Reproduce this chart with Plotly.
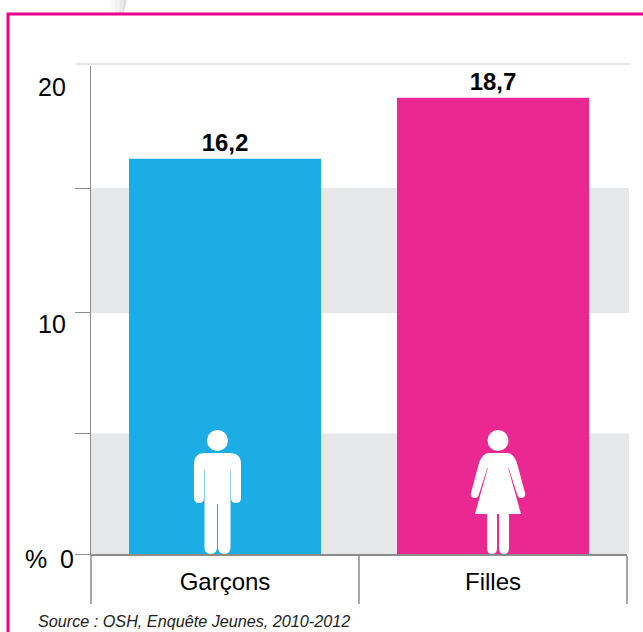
import plotly.graph_objects as go

categories = ["Garçons", "Filles"]
values = [16.2, 18.7]
bar_colors = ["#1BADE3", "#EB2891"]
y_ticks = [0, 4.94, 9.88, 15]
band_ranges = [(0, 4.94), (9.88, 15)]
y_label_values = [0, 10, 20]
y_label_texts = ["0", "10", "20"]
y_label_shifts = [-5, -14, -21]
source = "Source : OSH, Enquête Jeunes, 2010-2012"

W, H = 643, 632
FONT = "Liberation Sans"
GREY = "#8C8C8E"

def px(x):
    return x / W

def py(y):
    return 1 - y / H

man = ("M -23.5 56 Q -23.5 51 -18.5 51 Q -13.5 51 -13.5 56 L -13.5 84 L -13 84 "
       "L -13 6.5 Q -13 0 -6.7 0 Q -0.5 0 -0.5 6.5 L -0.5 50 L 0.5 50 L 0.5 6.5 "
       "Q 0.5 0 6.7 0 Q 13 0 13 6.5 L 13 84 L 13.5 84 L 13.5 56 Q 13.5 51 18.5 51 "
       "Q 23.5 51 23.5 56 L 23.5 90 Q 23.5 101 12 101 L -12 101 Q -23.5 101 -23.5 90 Z")
woman = ("M -27.3 60 Q -27 56 -23 56 Q -20 56 -19 60 L -10.7 86 L -10.2 86 L -23 40 L -11 40 "
         "L -11 6 Q -11 0 -6 0 Q -1 0 -1 6 L -1 40 L 1 40 L 1 6 Q 1 0 6 0 Q 11 0 11 6 L 11 40 "
         "L 23 40 L 10.2 86 L 10.7 86 L 19 60 Q 20 56 23 56 Q 27 56 27.3 60 L 18.7 92 "
         "Q 15 101 9 101 L -9 101 Q -15 101 -18.7 92 Z")


def icon(path, anchor_px):
    return [
        dict(type="path", path=path, xref="paper", yref="y", xsizemode="pixel", ysizemode="pixel",
             xanchor=px(anchor_px), yanchor=0, fillcolor="white", line_width=0, layer="above"),
        dict(type="circle", xref="paper", yref="y", xsizemode="pixel", ysizemode="pixel",
             xanchor=px(anchor_px), yanchor=0, x0=-10.5, x1=10.5, y0=103, y1=124,
             fillcolor="white", line_width=0, layer="above"),
    ]


def smudge(x_top_left, x_bot_left, x_top_right, x_bot_right, color):
    return dict(type="path", xref="paper", yref="paper",
                path=(f"M {px(x_top_left)} {py(0)} L {px(x_top_right)} {py(0)} "
                      f"L {px(x_bot_right)} {py(13)} L {px(x_bot_left)} {py(13)} Z"),
                fillcolor=color, line_width=0, layer="below")


shapes = [
    dict(type="rect", xref="paper", yref="y", x0=px(91), x1=px(629), y0=lo, y1=hi,
         fillcolor="#E6E7E8", line_width=0, layer="below")
    for lo, hi in band_ranges
] + [
    dict(type="line", xref="paper", yref="paper", x0=px(76), x1=px(630), y0=py(64), y1=py(64),
         line=dict(color="#E6E6E6", width=2.5), layer="below"),
    smudge(110, 112, 115, 115, "#F8F8F8"),
    smudge(115, 115, 120, 119, "#F2F2F2"),
    smudge(120, 119, 124, 122, "#E8E8E8"),
    smudge(124, 122, 127, 123.5, "#DCDCDC"),
    dict(type="path", xref="paper", yref="paper",
         path=f"M {px(8)} {py(632)} L {px(8)} {py(14)} L {px(643)} {py(14)}",
         line=dict(color="#EC008C", width=3), layer="above"),
] + icon(man, 217.5) + icon(woman, 498)

annotations = [
    dict(x=px(68), y=v, xref="paper", yref="y", text=t, showarrow=False, xanchor="right",
         yanchor="middle", yshift=s, font=dict(family=FONT, size=25, color="black"))
    for v, t, s in zip(y_label_values, y_label_texts, y_label_shifts)
]
annotations[0]["x"] = px(76)
annotations += [
    dict(x=px(23), y=0, xref="paper", yref="y", text="%", showarrow=False, xanchor="left",
         yanchor="middle", yshift=-5, font=dict(family=FONT, size=25, color="black")),
    dict(x=px(36), y=py(621), xref="paper", yref="paper", text=f"<i>{source}</i>", showarrow=False,
         xanchor="left", yanchor="middle", font=dict(family=FONT, size=16.2, color="#222222")),
]

fig = go.Figure(go.Bar(
    x=categories, y=values, width=192 / 268, marker=dict(color=bar_colors, line_width=0),
    text=[str(v).replace(".", ",") for v in values], textposition="outside", cliponaxis=False,
    textfont=dict(family=FONT, size=24, color="black", weight="bold"), textangle=0,
))
fig.update_layout(
    width=W, height=H, margin=dict(l=0, r=0, t=0, b=0), paper_bgcolor="white", plot_bgcolor="rgba(0,0,0,0)",
    showlegend=False, shapes=shapes, annotations=annotations,
    xaxis=dict(domain=[px(91), px(627)], type="category", tickson="boundaries", ticks="outside", ticklen=48,
               tickwidth=1.5, tickcolor="#A8A8A8", showline=True, linecolor=GREY, linewidth=1.5,
               tickfont=dict(family=FONT, size=24, color="black"), ticklabelstandoff=5, showgrid=False,
               range=[-0.5, 1.5]),
    yaxis=dict(domain=[py(554), py(66)], range=[0, 20], tickvals=y_ticks, ticktext=[""] * len(y_ticks),
               ticks="outside", ticklen=15, tickwidth=1, tickcolor=GREY, showline=True, linecolor=GREY,
               linewidth=1, showgrid=False, zeroline=False),
)
fig.write_html("out.html", config={"displayModeBar": False}, post_script="document.body.style.margin='0';")
